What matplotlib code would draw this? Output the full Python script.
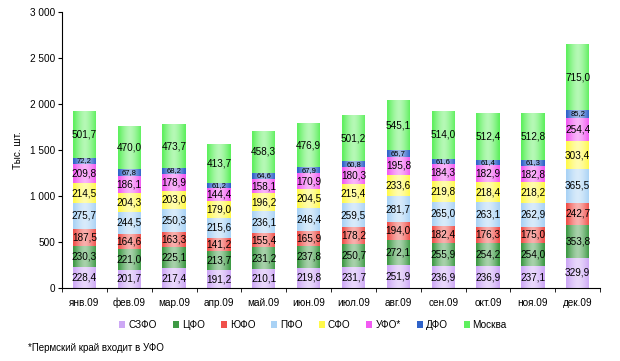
import matplotlib
matplotlib.use("Agg")
import matplotlib.pyplot as plt
import numpy as np
from matplotlib.patches import Rectangle, Patch

months = ["янв.09", "фев.09", "мар.09", "апр.09", "май.09", "июн.09", "июл.09",
          "авг.09", "сен.09", "окт.09", "ноя.09", "дек.09"]
series_names = ["СЗФО", "ЦФО", "ЮФО", "ПФО", "СФО", "УФО*", "ДФО", "Москва"]
szfo = [228.4, 201.7, 217.4, 191.2, 210.1, 219.8, 231.7, 251.9, 236.9, 236.9, 237.1, 329.9]
cfo = [230.3, 221.0, 225.1, 213.7, 231.2, 237.8, 250.7, 272.1, 255.9, 254.2, 254.0, 353.8]
yufo = [187.5, 164.6, 163.3, 141.2, 155.4, 165.9, 178.2, 194.0, 182.4, 176.3, 175.0, 242.7]
pfo = [275.7, 244.5, 250.3, 215.6, 236.1, 246.4, 259.5, 281.7, 265.0, 263.1, 262.9, 365.5]
sfo = [214.5, 204.3, 203.0, 179.0, 196.2, 204.5, 215.4, 233.6, 219.8, 218.4, 218.2, 303.4]
ufo = [209.8, 186.1, 178.9, 144.4, 158.1, 170.9, 180.3, 195.8, 184.3, 182.9, 182.8, 254.4]
dfo = [72.2, 67.8, 68.2, 61.2, 64.6, 67.9, 60.8, 65.7, 61.6, 61.4, 61.3, 85.2]
moscow = [501.7, 470.0, 473.7, 413.7, 458.3, 476.9, 501.2, 545.1, 514.0, 512.4, 512.8, 715.0]
yticks = [0, 500, 1000, 1500, 2000, 2500, 3000]
ytick_labels = ["0", "500", "1 000", "1 500", "2 000", "2 500", "3 000"]

data = [szfo, cfo, yufo, pfo, sfo, ufo, dfo, moscow]
colors = ["#CDA8F5", "#3E9A45", "#F0504A", "#A9D2F5", "#FFF94A", "#F25AF2", "#2F63C9", "#5EF05E"]

plt.rcParams['font.family'] = ['Liberation Sans', 'DejaVu Sans']
fig = plt.figure(figsize=(6.2, 3.61), dpi=100)
ax = fig.add_axes([0.1, 0.202, 0.868, 0.765])

x = np.arange(len(months))
w = 0.52
bottom = np.zeros(len(months))
for i, (vals, c) in enumerate(zip(data, colors)):
    vals = np.array(vals)
    ax.bar(x, vals, w, bottom=bottom, color=c, edgecolor='none', zorder=2)
    for xi, b, v in zip(x, bottom, vals):
        fs = 5.5 if i == 6 else 7.2
        ax.text(xi, b + v / 2, f"{v:.1f}".replace(".", ","), ha='center', va='center',
                fontsize=fs, color='#000000', zorder=5)
    bottom += vals

# cylinder shading
grad = np.linspace(-1, 1, 64)
alpha = np.clip(0.6 * (1 - np.abs(grad) ** 1.5) - 0.05, 0, 1)
img = np.zeros((1, 64, 4))
img[..., :3] = 1.0
img[..., 3] = alpha
for xi, tot in zip(x, bottom):
    im = ax.imshow(img, extent=[xi - w / 2, xi + w / 2, 0, tot], aspect='auto',
                   interpolation='bilinear', zorder=3)
    rect = Rectangle((xi - w / 2, 0), w, tot, transform=ax.transData)
    im.set_clip_path(rect)

ax.set_xlim(-0.5, len(months) - 0.5)
ax.set_ylim(0, 3000)
ax.set_yticks(yticks)
ax.set_yticklabels(ytick_labels, fontsize=7.2)
ax.set_xticks(x)
ax.set_xticklabels(months, fontsize=7.2)
ax.tick_params(axis='x', length=0, pad=7)
ax.set_xticks(np.arange(-0.5, len(months)), minor=True)
ax.tick_params(axis='x', which='minor', length=3, direction='out')
ax.tick_params(axis='y', length=3, direction='out', pad=2)
for s in ['top', 'right']:
    ax.spines[s].set_visible(False)
ax.spines['left'].set_linewidth(0.8)
ax.spines['bottom'].set_linewidth(0.8)
ax.set_ylabel("Тыс. шт.", fontsize=7.2, labelpad=5)

handles = [Patch(facecolor=c, label=n) for c, n in zip(colors, series_names)]
fig.legend(handles=handles, loc='center', bbox_to_anchor=(0.505, 0.1), ncol=8,
           frameon=False, fontsize=7.2, handlelength=0.6, handleheight=0.6,
           handletextpad=0.3, columnspacing=1.6)
fig.text(0.045, 0.035, "*Пермский край входит в УФО", fontsize=7, va='center')

fig.savefig("out.png", dpi=100)
